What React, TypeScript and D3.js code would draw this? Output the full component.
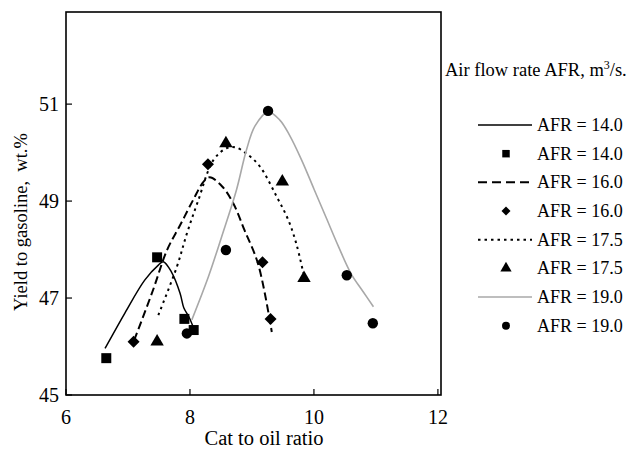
import React, { useEffect, useRef } from 'react';
import * as d3 from 'd3';

type Pt = [number, number];

// fitted curves
const line14: Pt[] = [
  [6.63, 45.96], [6.95, 46.69], [7.27, 47.37], [7.49, 47.68], [7.57, 47.75],
  [7.7, 47.54], [7.84, 47.1], [7.9, 46.8], [7.98, 46.62], [8.05, 46.41],
];
const line16: Pt[] = [
  [7.1, 46.13], [7.4, 47.15], [7.63, 47.99], [7.84, 48.5], [8.05, 49.02],
  [8.22, 49.4], [8.32, 49.49], [8.52, 49.3], [8.7, 48.95], [8.88, 48.4],
  [9.1, 47.7], [9.32, 46.3],
];
const line175: Pt[] = [
  [7.49, 46.65], [7.79, 47.65], [7.95, 48.33], [8.13, 49.0], [8.38, 49.85],
  [8.59, 50.09], [8.73, 50.11], [8.91, 49.98], [9.13, 49.71], [9.4, 49.09],
  [9.59, 48.6], [9.72, 48.1], [9.83, 47.51],
];
const line19: Pt[] = [
  [8.03, 46.55], [8.3, 47.45], [8.51, 48.26], [8.75, 49.23], [8.91, 50.05],
  [9.05, 50.55], [9.26, 50.84], [9.45, 50.67], [9.61, 50.35], [9.8, 49.85],
  [10.0, 49.25], [10.2, 48.65], [10.4, 48.05], [10.6, 47.5], [10.8, 47.12],
  [10.96, 46.82],
];

// experimental points
const pts14: Pt[] = [[6.65, 45.76], [7.47, 47.84], [7.91, 46.57], [8.06, 46.34]];
const pts16: Pt[] = [[7.09, 46.1], [8.29, 49.76], [9.17, 47.74], [9.3, 46.57]];
const pts175: Pt[] = [[7.47, 46.1], [8.58, 50.19], [9.49, 49.4], [9.84, 47.41]];
const pts19: Pt[] = [[7.95, 46.27], [8.58, 47.99], [9.26, 50.86], [10.53, 47.47], [10.95, 46.48]];

const xTicks = [6, 8, 10, 12];
const yTicks = [45, 47, 49, 51];

const legendLabels = [
  'AFR = 14.0', 'AFR = 14.0', 'AFR = 16.0', 'AFR = 16.0',
  'AFR = 17.5', 'AFR = 17.5', 'AFR = 19.0', 'AFR = 19.0',
];

const FONT = '"Liberation Serif", "Times New Roman", serif';

const diamondPath = (r: number) => `M0,${-r}L${r},0L0,${r}L${-r},0Z`;

const App: React.FC = () => {
  const svgRef = useRef<SVGSVGElement | null>(null);

  useEffect(() => {
    if (!svgRef.current) return;
    const svg = d3.select(svgRef.current);
    svg.selectAll('*').remove();

    const x = d3.scaleLinear().domain([6, 12.05]).range([66, 441]);
    const y = d3.scaleLinear().domain([45, 52.9]).range([395, 12]);

    const g = svg.append('g');

    // frame
    g.append('rect')
      .attr('x', x(6)).attr('y', y(52.9))
      .attr('width', x(12.05) - x(6)).attr('height', y(45) - y(52.9))
      .attr('fill', 'none').attr('stroke', '#000').attr('stroke-width', 1.6);

    // ticks (inward)
    xTicks.forEach(t => {
      g.append('line')
        .attr('x1', x(t)).attr('x2', x(t))
        .attr('y1', y(45)).attr('y2', y(45) - 6)
        .attr('stroke', '#000').attr('stroke-width', 1.2);
      g.append('text')
        .attr('x', x(t)).attr('y', 424)
        .attr('text-anchor', 'middle')
        .attr('font-family', FONT).attr('font-size', 20)
        .text(String(t));
    });
    yTicks.forEach(t => {
      g.append('line')
        .attr('x1', x(6)).attr('x2', x(6) + 6)
        .attr('y1', y(t)).attr('y2', y(t))
        .attr('stroke', '#000').attr('stroke-width', 1.2);
      g.append('text')
        .attr('x', 59).attr('y', y(t) + 7)
        .attr('text-anchor', 'end')
        .attr('font-family', FONT).attr('font-size', 20)
        .text(String(t));
    });

    // axis titles
    g.append('text')
      .attr('x', 264).attr('y', 445)
      .attr('text-anchor', 'middle')
      .attr('font-family', FONT).attr('font-size', 20.5)
      .text('Cat to oil ratio');
    g.append('text')
      .attr('transform', 'translate(27,222) rotate(-90)')
      .attr('text-anchor', 'middle')
      .attr('font-family', FONT).attr('font-size', 18.5)
      .style('white-space', 'pre')
      .text('Yield to gasoline,  wt.%');

    const lineGen = d3.line<Pt>()
      .x(d => x(d[0])).y(d => y(d[1]))
      .curve(d3.curveCatmullRom.alpha(0.5));

    const styles = [
      { data: line14, stroke: '#000', width: 1.5, dash: null as string | null },
      { data: line16, stroke: '#000', width: 2, dash: '8,4' },
      { data: line175, stroke: '#000', width: 2, dash: '2.5,4' },
      { data: line19, stroke: '#a8a8a8', width: 1.6, dash: null as string | null },
    ];
    styles.forEach(s => {
      const p = g.append('path')
        .datum(s.data)
        .attr('fill', 'none')
        .attr('stroke', s.stroke)
        .attr('stroke-width', s.width)
        .attr('d', lineGen);
      if (s.dash) p.attr('stroke-dasharray', s.dash);
    });

    const markerSets: { data: Pt[]; path: string; legend: string }[] = [
      {
        data: pts14,
        path: d3.symbol().type(d3.symbolSquare).size(100)()!,
        legend: d3.symbol().type(d3.symbolSquare).size(56)()!,
      },
      { data: pts16, path: diamondPath(6), legend: diamondPath(4.5) },
      {
        data: pts175,
        path: d3.symbol().type(d3.symbolTriangle).size(78)()!,
        legend: d3.symbol().type(d3.symbolTriangle).size(55)()!,
      },
      {
        data: pts19,
        path: d3.symbol().type(d3.symbolCircle).size(85)()!,
        legend: d3.symbol().type(d3.symbolCircle).size(50)()!,
      },
    ];
    markerSets.forEach(m => {
      g.selectAll(null)
        .data(m.data)
        .enter()
        .append('path')
        .attr('d', m.path)
        .attr('transform', d => `translate(${x(d[0])},${y(d[1])})`)
        .attr('fill', '#000');
    });

    // legend
    const lg = svg.append('g');
    const title = lg.append('text')
      .attr('x', 445).attr('y', 76)
      .attr('font-family', FONT).attr('font-size', 18.5);
    title.append('tspan').text('Air flow rate AFR, m');
    title.append('tspan').attr('font-size', 12).attr('dy', -7).text('3');
    title.append('tspan').attr('dy', 7).text('/s.');

    const rowY = d3.scaleLinear().domain([0, 7]).range([125, 325.7]);
    legendLabels.forEach((lab, i) => {
      const cy = rowY(i);
      if (i % 2 === 0) {
        const s = styles[i / 2];
        const l = lg.append('line')
          .attr('x1', 478).attr('x2', 532)
          .attr('y1', cy).attr('y2', cy)
          .attr('stroke', s.stroke).attr('stroke-width', s.width);
        if (s.dash) l.attr('stroke-dasharray', i === 2 ? '9,5' : s.dash);
      } else {
        lg.append('path')
          .attr('d', markerSets[(i - 1) / 2].legend)
          .attr('transform', `translate(506,${cy})`)
          .attr('fill', '#000');
      }
      lg.append('text')
        .attr('x', 537).attr('y', cy + 6)
        .attr('font-family', FONT).attr('font-size', 18)
        .text(lab);
    });
  }, []);

  return (
    <svg
      ref={svgRef}
      width={633}
      height={450}
      style={{ position: 'absolute', left: 0, top: 0, background: '#fff' }}
    />
  );
};

export default App;
